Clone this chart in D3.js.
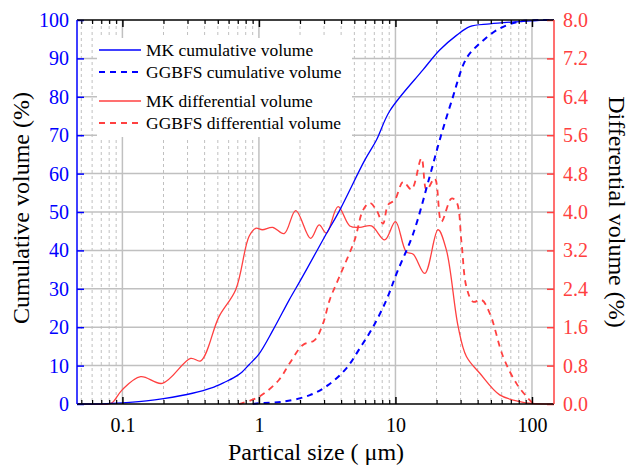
<!DOCTYPE html>
<html><head><meta charset="utf-8">
<script src="https://cdn.jsdelivr.net/npm/d3@7"></script>
<style>html,body{margin:0;padding:0;background:#fff;}</style>
</head>
<body><svg id="c" width="632" height="467"></svg>
<script>
// ---- data ----
const mkCumSize = [0.0465,0.07,0.1,0.15,0.2,0.326,0.45,0.57,0.65,0.75,0.85,1.0,1.27,1.66,2.0,2.23,3.08,3.91,5.96,7.26,9.08,15.9,21.1,28,35,49,82,115,145];
const mkCumVal  = [0,0.05,0.3,0.8,1.4,2.8,4.2,5.8,6.8,8.3,10.3,13,19.3,27,32,35,44,50.5,63.5,68.75,76.3,87,92.2,96,98.3,99.0,99.6,99.9,100];

const ggCumSize = [0.9,1.0,1.5,2.36,3.21,4.37,5.48,6.86,8.59,10.2,13.5,17.8,21.1,25.7,33.1,41.5,58,81.4,115,145];
const ggCumVal  = [0,0.2,0.6,2.3,4.9,9.3,14.5,20.1,27.1,34,44.4,59.2,68.75,78.7,90,93.9,97.8,99.6,100,100];

const mkDifSize = [0.0465,0.078,0.0845,0.1,0.136,0.196,0.316,0.375,0.51,0.676,0.846,0.948,1.06,1.26,1.53,1.86,2.39,2.76,3.12,3.8,4.63,5.48,6.67,8.35,10.0,12.0,13.5,16.4,20.5,23.6,28.8,33.1,41.5,58,81.4,100,145];
const mkDifVal  = [0,0,0.03,0.3,0.57,0.43,0.95,0.9,1.82,2.38,3.49,3.66,3.63,3.68,3.55,4.03,3.45,3.73,3.56,4.11,3.71,3.68,3.71,3.42,3.80,3.17,3.12,2.72,3.63,3.21,1.61,0.99,0.64,0.19,0.05,0.01,0];

const ggDifSize = [0.715,1.0,1.4,1.68,2.1,2.56,2.95,3.3,3.91,5.03,5.79,6.48,7.26,8.11,8.83,9.88,11.4,13.1,15.5,16.9,19.4,21.7,25.7,28,30.5,33.1,37.1,42.7,49.1,61.4,76.9,93.6,103];
const ggDifVal  = [0,0.15,0.5,0.85,1.23,1.33,1.68,2.17,2.67,3.42,4.04,4.19,4.04,3.76,4.15,4.25,4.63,4.47,5.12,4.46,4.70,3.80,4.28,4.21,3.35,2.44,2.13,2.17,1.89,0.99,0.43,0.12,0];

const xMajor = [0.1,1,10,100];
const xTickLabels = ["0.1","1","10","100"];
const yLeftTicks = [0,10,20,30,40,50,60,70,80,90,100];
const yRightTicks = [0,0.8,1.6,2.4,3.2,4.0,4.8,5.6,6.4,7.2,8.0];
const legendLabels = ["MK cumulative volume","GGBFS cumulative volume","MK differential volume","GGBFS differential volume"];

// ---- layout ----
const FONT='"Liberation Serif"';
const L=77, R=554, T=20, B=404;
const BLUE="#0000ff", RED="#ff4040", GRID="#c0c0c0";
const svg=d3.select("#c");
const x=d3.scaleLog().domain([0.0465,145]).range([L,R]);
const yL=d3.scaleLinear().domain([0,100]).range([B,T]);
const yR=d3.scaleLinear().domain([0,8]).range([B,T]);

const minors=[];
[0.01,0.1,1,10].forEach(d=>{for(let k=2;k<=9;k++){const v=d*k; if(v>=0.0465&&v<=145) minors.push(v);}});

// grid
const g=svg.append("g");
g.selectAll(".mn").data(minors).enter().append("line")
 .attr("x1",d=>x(d)).attr("x2",d=>x(d)).attr("y1",T).attr("y2",B)
 .attr("stroke",GRID).attr("stroke-width",1).attr("stroke-dasharray","3,3");
g.selectAll(".mj").data(xMajor).enter().append("line")
 .attr("x1",d=>x(d)).attr("x2",d=>x(d)).attr("y1",T).attr("y2",B)
 .attr("stroke",GRID).attr("stroke-width",1.5);
g.selectAll(".hy").data(yLeftTicks.filter(d=>d>0&&d<100)).enter().append("line")
 .attr("x1",L).attr("x2",R).attr("y1",d=>yL(d)).attr("y2",d=>yL(d))
 .attr("stroke",GRID).attr("stroke-width",1.5);

// legend background
svg.append("rect").attr("x",97).attr("y",38).attr("width",255).attr("height",99).attr("fill","#fff");

// lines
const lineOf=(sx,sv,yS)=>d3.line().x(i=>x(sx[i])).y(i=>yS(sv[i])).curve(d3.curveCatmullRom.alpha(0.5))(d3.range(sx.length));
const plot=svg.append("g");
plot.append("path").attr("d",lineOf(mkDifSize,mkDifVal,yR)).attr("fill","none").attr("stroke",RED).attr("stroke-width",1.3);
plot.append("path").attr("d",lineOf(ggDifSize,ggDifVal,yR)).attr("fill","none").attr("stroke",RED).attr("stroke-width",1.8).attr("stroke-dasharray","6,5");
plot.append("path").attr("d",lineOf(mkCumSize,mkCumVal,yL)).attr("fill","none").attr("stroke",BLUE).attr("stroke-width",1.3);
plot.append("path").attr("d",lineOf(ggCumSize,ggCumVal,yL)).attr("fill","none").attr("stroke",BLUE).attr("stroke-width",2).attr("stroke-dasharray","6,5");

// axes
const axB=svg.append("g").attr("transform",`translate(0,${B})`)
 .call(d3.axisBottom(x).tickValues(xMajor).tickSize(-7).tickFormat((d,i)=>xTickLabels[i]).tickPadding(14));
axB.select(".domain").remove();
axB.selectAll("line").attr("stroke","#000").attr("stroke-width",1.5);
axB.selectAll("text").attr("font-size",20).attr("fill","#000").style("font-family",FONT);
const axBm=svg.append("g").attr("transform",`translate(0,${B})`).call(d3.axisBottom(x).tickValues(minors).tickSize(-4).tickFormat(""));
axBm.select(".domain").remove(); axBm.selectAll("line").attr("stroke","#000").attr("stroke-width",1.2);
const axT=svg.append("g").attr("transform",`translate(0,${T})`).call(d3.axisTop(x).tickValues(xMajor).tickSize(-7).tickFormat(""));
axT.select(".domain").remove(); axT.selectAll("line").attr("stroke","#000").attr("stroke-width",1.5);
const axTm=svg.append("g").attr("transform",`translate(0,${T})`).call(d3.axisTop(x).tickValues(minors).tickSize(-4).tickFormat(""));
axTm.select(".domain").remove(); axTm.selectAll("line").attr("stroke","#000").attr("stroke-width",1.2);

const axL=svg.append("g").attr("transform",`translate(${L},0)`)
 .call(d3.axisLeft(yL).tickValues(yLeftTicks).tickSize(-7).tickPadding(8).tickFormat(d3.format("d")));
axL.select(".domain").remove();
axL.selectAll("line").attr("stroke",BLUE).attr("stroke-width",1.5);
axL.selectAll("text").attr("font-size",20).attr("fill",BLUE).style("font-family",FONT);

const axR=svg.append("g").attr("transform",`translate(${R},0)`)
 .call(d3.axisRight(yR).tickValues(yRightTicks).tickSize(-7).tickPadding(9).tickFormat(d3.format(".1f")));
axR.select(".domain").remove();
axR.selectAll("line").attr("stroke",RED).attr("stroke-width",1.5);
axR.selectAll("text").attr("font-size",20).attr("fill",RED).style("font-family",FONT);

// frame
svg.append("line").attr("x1",L).attr("x2",R).attr("y1",T).attr("y2",T).attr("stroke","#000").attr("stroke-width",1.5);
svg.append("line").attr("x1",L).attr("x2",R).attr("y1",B).attr("y2",B).attr("stroke","#000").attr("stroke-width",1.5);
svg.append("line").attr("x1",L).attr("x2",L).attr("y1",T).attr("y2",B).attr("stroke",BLUE).attr("stroke-width",1.5);
svg.append("line").attr("x1",R).attr("x2",R).attr("y1",T).attr("y2",B).attr("stroke",RED).attr("stroke-width",1.5);

// titles
svg.append("text").attr("x",316).attr("y",460).attr("text-anchor","middle").style("font-family",FONT).attr("font-size",24).text("Partical size ( μm)");
svg.append("text").attr("transform","translate(29,208) rotate(-90)").attr("text-anchor","middle").style("font-family",FONT).attr("font-size",24).text("Cumulative volume (%)");
svg.append("text").attr("transform","translate(609,212) rotate(90)").attr("text-anchor","middle").style("font-family",FONT).attr("font-size",24).text("Differential volume (%)");

// legend
const legY=[50,72,101,123];
const legC=[BLUE,BLUE,RED,RED];
const legD=[null,"6,5",null,"6,5"];
const legW=[1.3,2,1.3,1.8];
const lg=svg.append("g");
legendLabels.forEach((t,i)=>{
  const ln=lg.append("line").attr("x1",99).attr("x2",141).attr("y1",legY[i]).attr("y2",legY[i]).attr("stroke",legC[i]).attr("stroke-width",legW[i]);
  if(legD[i]) ln.attr("stroke-dasharray",legD[i]);
  lg.append("text").attr("x",146).attr("y",legY[i]+6).style("font-family",FONT).attr("font-size",17.5).text(t);
});
</script></body></html>
